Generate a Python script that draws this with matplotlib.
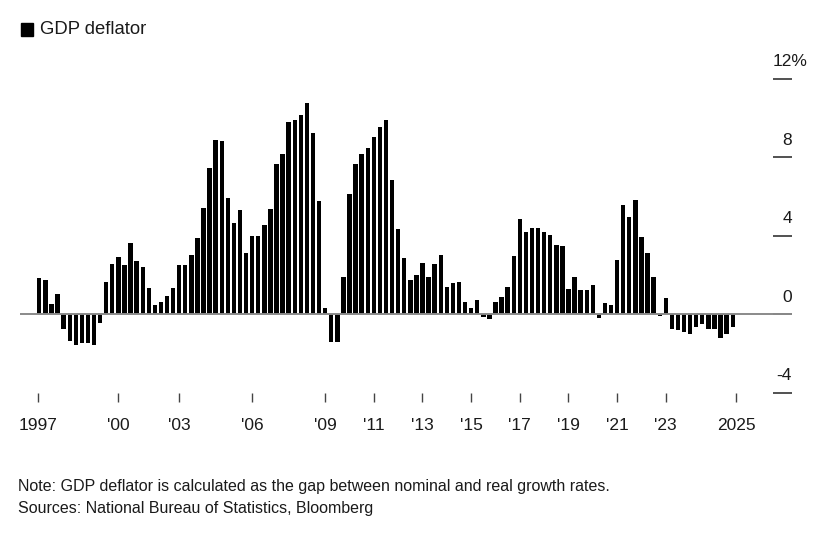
import numpy as np
import matplotlib
matplotlib.use("Agg")
import matplotlib.pyplot as plt
from matplotlib.patches import Rectangle
from matplotlib import font_manager

# China GDP deflator, y/y %, quarterly from 1997 Q1
deflator = [
    1.87, 1.73, 0.54, 1.05,
    -0.77, -1.36, -1.58, -1.45, -1.48, -1.58, -0.46,
    1.67, 2.55, 2.94, 2.50, 3.64, 2.72, 2.40, 1.34, 0.46, 0.63, 0.92, 1.34,
    2.52, 2.52, 3.04, 3.89, 5.41, 7.48, 8.89,
    8.83, 5.95, 4.63, 5.34, 3.11, 4.00, 4.00, 4.57, 5.39, 7.69, 8.15, 9.83,
    9.93, 10.14, 10.80, 9.27, 5.77, 0.32, -1.41, -1.41,
    1.92, 6.16, 7.69, 8.20, 8.49, 9.05, 9.56, 9.93, 6.85, 4.34, 2.87,
    1.75, 2.02, 2.62, 1.92, 2.55, 3.03, 1.38, 1.60, 1.63, 0.65, 0.34, 0.73,
    -0.12, -0.26, 0.65, 0.88, 1.41, 2.98, 4.85, 4.22, 4.40, 4.40, 4.20, 4.03,
    3.54, 3.47, 1.29, 1.90, 1.26, 1.26,
    1.51, -0.19, 0.56, 0.48, 2.79, 5.58, 4.97, 5.83, 3.93, 3.13, 1.89, -0.07,
    0.82, -0.73, -0.82, -0.90, -1.02, -0.66, -0.51, -0.73, -0.77, -1.21, -1.02,
    -0.66,
]
start_year = 1997

x_labels = ["1997", "'00", "'03", "'06", "'09", "'11", "'13", "'15",
            "'17", "'19", "'21", "'23", "2025"]
x_label_pos = [1997.2, 2000.5, 2003, 2006, 2009, 2011, 2013, 2015,
               2017, 2019, 2021, 2023, 2025.9]
y_ticks = [-4, 0, 4, 8, 12]

names = {f.name for f in font_manager.fontManager.ttflist}
font = "Liberation Sans Narrow" if "Liberation Sans Narrow" in names else "Liberation Sans"
plt.rcParams["font.family"] = [font, "DejaVu Sans"]
txt = "#1a1a1a"

# bars sit at quarter end
x = start_year + (np.arange(len(deflator)) + 1) / 4

fig = plt.figure(figsize=(8.2, 5.47), dpi=100)
ax = fig.add_axes([20 / 820, 1 - 392.7 / 547, 772 / 820, (392.7 - 79) / 547])

ax.bar(x, deflator, width=0.18, color="black", zorder=2)
ax.axhline(0, color="#8a8a8a", lw=1.4, zorder=3)

ax.set_xlim(1996.457, 2028.187)
ax.set_ylim(-4, 12)

for s in ax.spines.values():
    s.set_visible(False)

ax.set_xticks(x_label_pos)
ax.set_xticklabels(x_labels)
ax.tick_params(axis="x", direction="out", length=6.5, width=1.0,
               color="#444444", pad=12, labelsize=12.5, labelcolor=txt)

ax.yaxis.tick_right()
ax.set_yticks(y_ticks)
ax.tick_params(axis="y", direction="in", length=13.7, width=1.2,
               color="#333333", labelright=False)
for v in y_ticks:
    # top label carries the unit, hanging past the right edge
    label, dx = (f"{v}%", 11.1) if v == y_ticks[-1] else (str(v), 0)
    ax.annotate(label, xy=(1, v), xycoords=("axes fraction", "data"),
                xytext=(dx, 9), textcoords="offset points",
                ha="right", va="baseline", fontsize=12.5, color=txt)

# legend
fig.patches.append(Rectangle((21 / 820, 1 - 36 / 547), 12 / 820, 13 / 547,
                             transform=fig.transFigure, color="black"))
fig.text(40 / 820, 1 - 30 / 547, "GDP deflator", ha="left", va="center",
         fontsize=13.3, color=txt)

fig.text(18 / 820, 1 - 487 / 547,
         "Note: GDP deflator is calculated as the gap between nominal and real growth rates.",
         ha="left", va="center", fontsize=11.5, color=txt)
fig.text(18 / 820, 1 - 509 / 547, "Sources: National Bureau of Statistics, Bloomberg",
         ha="left", va="center", fontsize=11.5, color=txt)

fig.savefig("out.png", dpi=100)
